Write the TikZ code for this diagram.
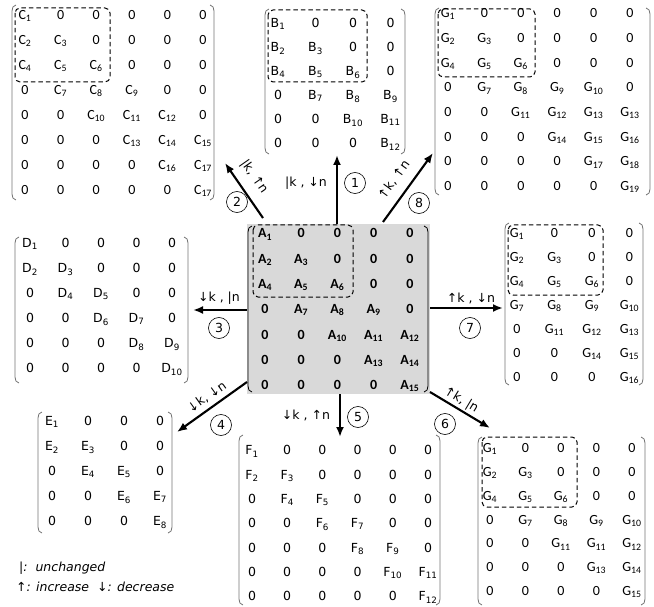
\documentclass[tikz,border=0pt]{standalone}
\usepackage{fontspec}
\setmainfont{Carlito}
\newfontfamily\verd{DejaVu Sans}
\usetikzlibrary{matrix,arrows.meta}
\newcommand{\cfs}{\fontsize{14}{16}\selectfont}
\newcommand{\vfs}{\verd\fontsize{12.5}{15}\selectfont}
\newcommand{\sbs}[1]{\textsubscript{#1}}
\newcommand{\brackets}[5][brk]{%
  \draw[#1] ({#2+4},#3) to[out=180,in=90] (#2,{#3+6}) -- (#2,{#5-6}) to[out=-90,in=180] ({#2+4},#5);
  \draw[#1] ({#4-4},#3) to[out=0,in=90] (#4,{#3+6}) -- (#4,{#5-6}) to[out=-90,in=0] ({#4-4},#5);
}
\tikzset{
  cell/.style={inner sep=0pt, text height=8.5pt, text depth=3pt, anchor=center},
  mat/.style 2 args={matrix of nodes, inner sep=0pt, column sep=0pt, row sep=0pt,
    nodes={cell, minimum width=#1, minimum height=#2}},
  calm/.style={nodes={font=\cfs}},
  verm/.style={nodes={font=\vfs}},
  brk/.style={draw=black!55, line width=0.8pt},
  dbox/.style={draw=black, line width=1pt, rounded corners=5pt, dash pattern=on 4.5pt off 3pt},
  arr/.style={line width=2.1pt, -{Latex[length=10pt,width=8pt]}},
  num/.style={circle, draw, line width=0.6pt, minimum size=21pt, inner sep=0pt},
  lab/.style={inner sep=0pt},
}
\begin{document}
\begin{tikzpicture}[x=1pt,y=-1pt,font=\vfs]
\useasboundingbox (0,0) rectangle (654,607);

% ---------- centre matrix A ----------
\fill[black!15] (247,224) rectangle (430,394);
\brackets[brk,draw=black]{248}{226}{428}{392}
\matrix (A) [mat={36.2}{25.3}, nodes={font=\cfs\bfseries}] at (337.4,311) {
A\sbs{1} & 0 & 0 & 0 & 0 \\
A\sbs{2} & A\sbs{3} & 0 & 0 & 0 \\
A\sbs{4} & A\sbs{5} & A\sbs{6} & 0 & 0 \\
0 & A\sbs{7} & A\sbs{8} & A\sbs{9} & 0 \\
0 & 0 & A\sbs{10} & A\sbs{11} & A\sbs{12} \\
0 & 0 & 0 & A\sbs{13} & A\sbs{14} \\
0 & 0 & 0 & 0 & A\sbs{15} \\
};
\draw[dbox] (253,225) rectangle (353,297);

% ---------- C (top left) ----------
\brackets{12}{5}{214}{200}
\matrix (C) [mat={35.6}{25}, calm] at (114,104.5) {
C\sbs{1} & 0 & 0 & 0 & 0 & 0 \\
C\sbs{2} & C\sbs{3} & 0 & 0 & 0 & 0 \\
C\sbs{4} & C\sbs{5} & C\sbs{6} & 0 & 0 & 0 \\
0 & C\sbs{7} & C\sbs{8} & C\sbs{9} & 0 & 0 \\
0 & 0 & C\sbs{10} & C\sbs{11} & C\sbs{12} & 0 \\
0 & 0 & 0 & C\sbs{13} & C\sbs{14} & C\sbs{15} \\
0 & 0 & 0 & 0 & C\sbs{16} & C\sbs{17} \\
0 & 0 & 0 & 0 & 0 & C\sbs{17} \\
};
\draw[dbox] (15,8) rectangle (110,82);

% ---------- B (top middle) ----------
\brackets{265}{9}{405}{154}
\matrix (B) [mat={37.5}{24}, verm] at (334.25,85) {
B\sbs{1} & 0 & 0 & 0 \\
B\sbs{2} & B\sbs{3} & 0 & 0 \\
B\sbs{4} & B\sbs{5} & B\sbs{6} & 0 \\
0 & B\sbs{7} & B\sbs{8} & B\sbs{9} \\
0 & 0 & B\sbs{10} & B\sbs{11} \\
0 & 0 & 0 & B\sbs{12} \\
};
\draw[dbox] (268,10) rectangle (367,82);

% ---------- G (top right) ----------
\brackets{435}{8}{650}{195}
\matrix (G1) [mat={36.4}{24.7}, calm] at (539,101.5) {
G\sbs{1} & 0 & 0 & 0 & 0 & 0 \\
G\sbs{2} & G\sbs{3} & 0 & 0 & 0 & 0 \\
G\sbs{4} & G\sbs{5} & G\sbs{6} & 0 & 0 & 0 \\
0 & G\sbs{7} & G\sbs{8} & G\sbs{9} & G\sbs{10} & 0 \\
0 & 0 & G\sbs{11} & G\sbs{12} & G\sbs{13} & G\sbs{13} \\
0 & 0 & 0 & G\sbs{14} & G\sbs{15} & G\sbs{16} \\
0 & 0 & 0 & 0 & G\sbs{17} & G\sbs{18} \\
0 & 0 & 0 & 0 & 0 & G\sbs{19} \\
};
\draw[dbox] (438,9) rectangle (535,77);

% ---------- D (left) ----------
\brackets{15}{237}{188}{383}
\matrix (D) [mat={35.5}{25}, verm] at (101,307.5) {
D\sbs{1} & 0 & 0 & 0 & 0 \\
D\sbs{2} & D\sbs{3} & 0 & 0 & 0 \\
0 & D\sbs{4} & D\sbs{5} & 0 & 0 \\
0 & 0 & D\sbs{6} & D\sbs{7} & 0 \\
0 & 0 & 0 & D\sbs{8} & D\sbs{9} \\
0 & 0 & 0 & 0 & D\sbs{10} \\
};

% ---------- G (right) ----------
\brackets{505}{223}{643}{385}
\matrix (G2) [mat={37.5}{24}, calm] at (573.25,307) {
G\sbs{1} & 0 & 0 & 0 \\
G\sbs{2} & G\sbs{3} & 0 & 0 \\
G\sbs{4} & G\sbs{5} & G\sbs{6} & 0 \\
G\sbs{7} & G\sbs{8} & G\sbs{9} & G\sbs{10} \\
0 & G\sbs{11} & G\sbs{12} & G\sbs{13} \\
0 & 0 & G\sbs{14} & G\sbs{15} \\
0 & 0 & 0 & G\sbs{16} \\
};
\draw[dbox] (508,225) rectangle (603,295);

% ---------- E (bottom left) ----------
\brackets{38}{412}{172}{533}
\matrix (E) [mat={36}{25}, verm] at (106,473) {
E\sbs{1} & 0 & 0 & 0 \\
E\sbs{2} & E\sbs{3} & 0 & 0 \\
0 & E\sbs{4} & E\sbs{5} & 0 \\
0 & 0 & E\sbs{6} & E\sbs{7} \\
0 & 0 & 0 & E\sbs{8} \\
};

% ---------- F (bottom middle) ----------
\brackets{239}{435}{440}{605}
\matrix (F) [mat={35.2}{24.3}, verm] at (340,525) {
F\sbs{1} & 0 & 0 & 0 & 0 & 0 \\
F\sbs{2} & F\sbs{3} & 0 & 0 & 0 & 0 \\
0 & F\sbs{4} & F\sbs{5} & 0 & 0 & 0 \\
0 & 0 & F\sbs{6} & F\sbs{7} & 0 & 0 \\
0 & 0 & 0 & F\sbs{8} & F\sbs{9} & 0 \\
0 & 0 & 0 & 0 & F\sbs{10} & F\sbs{11} \\
0 & 0 & 0 & 0 & 0 & F\sbs{12} \\
};

% ---------- G (bottom right) ----------
\brackets{478}{437}{645}{605}
\matrix (G3) [mat={35.5}{23.8}, calm] at (561,521.4) {
G\sbs{1} & 0 & 0 & 0 & 0 \\
G\sbs{2} & G\sbs{3} & 0 & 0 & 0 \\
G\sbs{4} & G\sbs{5} & G\sbs{6} & 0 & 0 \\
0 & G\sbs{7} & G\sbs{8} & G\sbs{9} & G\sbs{10} \\
0 & 0 & G\sbs{11} & G\sbs{11} & G\sbs{12} \\
0 & 0 & 0 & G\sbs{13} & G\sbs{14} \\
0 & 0 & 0 & 0 & G\sbs{15} \\
};
\draw[dbox] (482,437) rectangle (577,507);

% ---------- arrows ----------
\coordinate (t1) at (337,224); \coordinate (h1) at (337,155);
\coordinate (t2) at (263,218); \coordinate (h2) at (225,163);
\coordinate (t8) at (383,222); \coordinate (h8) at (433,153);
\coordinate (t3) at (247,310); \coordinate (h3) at (193,310);
\coordinate (t7) at (430,308); \coordinate (h7) at (503,308);
\coordinate (t4) at (247,382); \coordinate (h4) at (177,432);
\coordinate (t5) at (340,394); \coordinate (h5) at (340,437);
\coordinate (t6) at (430,392); \coordinate (h6) at (490,428);
\foreach \i in {1,2,3,4,5,6,7,8} { \draw[arr] (t\i) -- (h\i); }

\node[lab] (l1) at (306,183) {|k , ↓n};
\node[num] (n1) at (355,183) {1};
\node[lab, rotate=-55] (l2) at (254,177) {|k, ↑n};
\node[num] (n2) at (237,202) {2};
\node[lab, rotate=54] (l8) at (394,180) {↑k, ↑n};
\node[num] (n8) at (419,203) {8};
\node[lab] (l3) at (219,298) {↓k , |n};
\node[num] (n3) at (219,328) {3};
\node[lab] (l7) at (471,298) {↑k , ↓n};
\node[num] (n7) at (470,328) {7};
\node[lab, rotate=35.5] (l4) at (207,397) {↓k, ↓n};
\node[num] (n4) at (221,425) {4};
\node[lab, rotate=-31] (l6) at (461,400) {↑k, |n};
\node[num] (n6) at (445,424) {6};
\node[lab] (l5) at (306,415) {↓k , ↑n};
\node[num] (n5) at (358,417) {5};

% ---------- legend ----------
\node[lab, anchor=west, font=\vfs\itshape] (leg1) at (19,568) {|:\ \ unchanged};
\node[lab, anchor=west, font=\vfs\itshape] (leg2) at (16,587) {↑: increase\hspace{8pt}↓: decrease};
\end{tikzpicture}
\end{document}
